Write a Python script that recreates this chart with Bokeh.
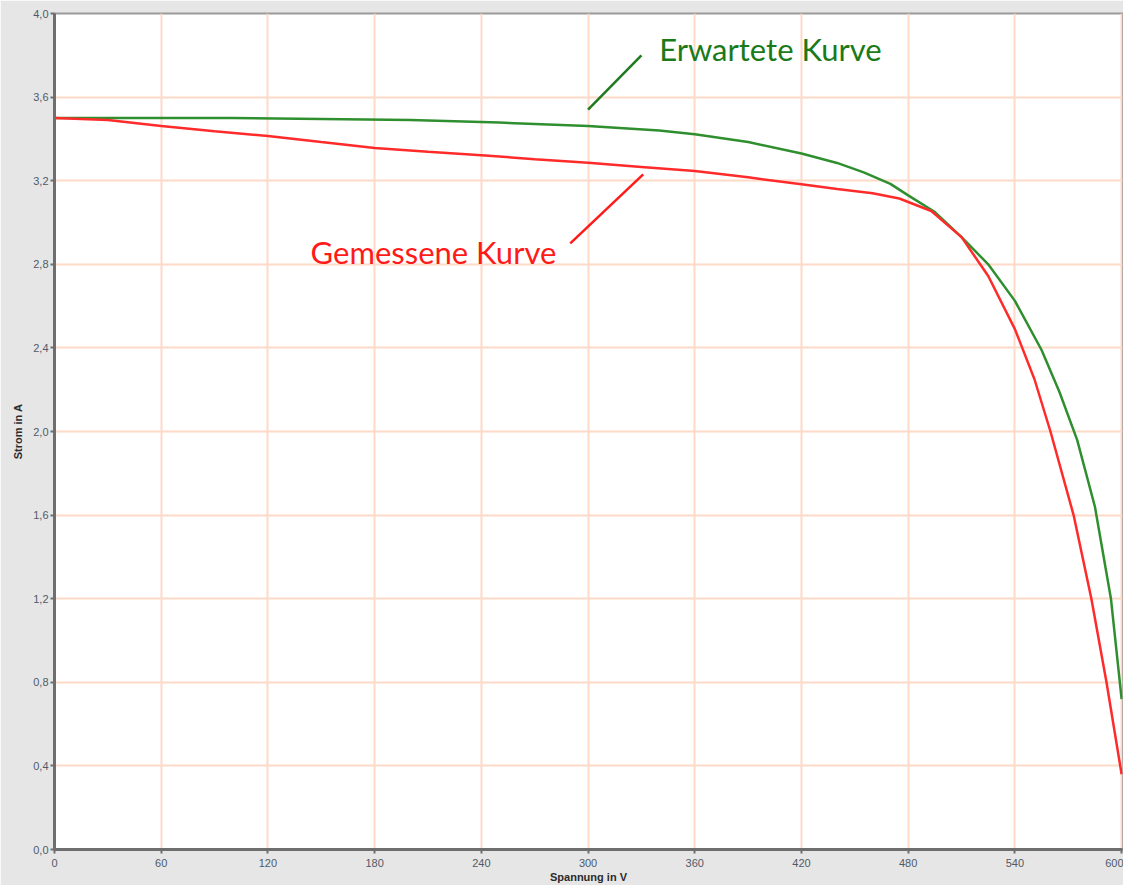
from bokeh.plotting import figure
from bokeh.models import ColumnDataSource, FixedTicker, CustomJSTickFormatter, Label
from bokeh.embed import file_html
from bokeh.resources import INLINE

# ---- data -------------------------------------------------------------
x_ticks = [0, 60, 120, 180, 240, 300, 360, 420, 480, 540, 600]
y_ticks = [0.0, 0.4, 0.8, 1.2, 1.6, 2.0, 2.4, 2.8, 3.2, 3.6, 4.0]

volt_expected = [0, 100, 200, 250, 300, 340, 360, 390, 420, 440, 455, 470,
                 480, 495, 510, 525, 540, 555, 565, 575, 585, 594, 600]
curr_expected = [3.50, 3.50, 3.49, 3.478, 3.462, 3.44, 3.422, 3.385, 3.33,
                 3.285, 3.24, 3.185, 3.13, 3.05, 2.93, 2.80, 2.625, 2.39,
                 2.19, 1.96, 1.64, 1.20, 0.72]

volt_measured = [0, 30, 60, 90, 120, 150, 180, 210, 240, 270, 300, 330, 360,
                 390, 420, 440, 460, 475, 493, 510, 525, 540, 551, 560, 573,
                 583, 591.5, 600]
curr_measured = [3.50, 3.49, 3.462, 3.437, 3.414, 3.385, 3.357, 3.338, 3.322,
                 3.303, 3.286, 3.266, 3.246, 3.216, 3.183, 3.16, 3.14, 3.115,
                 3.055, 2.93, 2.744, 2.49, 2.25, 2.0, 1.6, 1.2, 0.8, 0.36]

label_expected = "Erwartete Kurve"
label_measured = "Gemessene  Kurve"
leader_expected = [300, 3.54, 330, 3.80]
leader_measured = [290, 2.90, 331, 3.23]
text_expected_pos = [340, 3.83]
text_measured_pos = [144, 2.86]

# ---- figure -----------------------------------------------------------
W, H = 1123, 885
p = figure(width=W, height=H, output_backend="svg", toolbar_location=None,
           x_range=(0, 600.5), y_range=(0, 4.0),
           min_border_left=54, min_border_right=1, min_border_top=13,
           min_border_bottom=34)
p.border_fill_color = "#e6e6e6"
p.background_fill_color = "white"
p.outline_line_color = "#9a9a9a"
p.outline_line_width = 2

p.xgrid.ticker = FixedTicker(ticks=x_ticks)
p.ygrid.ticker = FixedTicker(ticks=y_ticks)
for g in (p.xgrid, p.ygrid):
    g.grid_line_color = "#fdd9c8"
    g.grid_line_width = 2

p.xaxis.ticker = FixedTicker(ticks=x_ticks)
p.yaxis.ticker = FixedTicker(ticks=y_ticks)
p.yaxis.formatter = CustomJSTickFormatter(code="return tick.toFixed(1).replace('.', ',');")
p.xaxis.formatter = CustomJSTickFormatter(code="return tick.toFixed(0);")

for ax in (p.xaxis, p.yaxis):
    ax.axis_line_color = "#6e6e6e"
    ax.axis_line_width = 3
    ax.major_tick_line_color = "#6e6e6e"
    ax.major_tick_line_width = 2
    ax.major_tick_out = 4
    ax.major_tick_in = 0
    ax.minor_tick_line_color = None
    ax.major_label_text_font = "Liberation Sans"
    ax.major_label_text_font_size = "11px"
    ax.major_label_text_color = "#4f5b68"
    ax.axis_label_text_font = "Liberation Sans"
    ax.axis_label_text_font_style = "bold"
    ax.axis_label_text_font_size = "11px"
    ax.axis_label_text_color = "#2b2b2b"

p.xaxis.axis_label = "Spannung in V"
p.yaxis.axis_label = "Strom in A"
p.xaxis.major_label_standoff = 5
p.yaxis.major_label_standoff = 2
p.xaxis.axis_label_standoff = 1
p.yaxis.axis_label_standoff = 6

# ---- curves -----------------------------------------------------------
src_exp = ColumnDataSource(dict(v=volt_expected, i=curr_expected))
src_meas = ColumnDataSource(dict(v=volt_measured, i=curr_measured))
p.line("v", "i", source=src_exp, line_color="#2f8f2f", line_width=2.5)
p.line("v", "i", source=src_meas, line_color="#ff2b2b", line_width=2.5)

# ---- annotations ------------------------------------------------------
p.segment(x0=[leader_expected[0]], y0=[leader_expected[1]],
          x1=[leader_expected[2]], y1=[leader_expected[3]],
          line_color="#1f7a1f", line_width=2.5)
p.segment(x0=[leader_measured[0]], y0=[leader_measured[1]],
          x1=[leader_measured[2]], y1=[leader_measured[3]],
          line_color="#ff1a1a", line_width=2.5)

p.add_layout(Label(x=text_expected_pos[0], y=text_expected_pos[1],
                   text=label_expected, text_font="Lato",
                   text_font_size="31px", text_color="#1a7a1a",
                   text_baseline="middle", text_align="left"))
p.add_layout(Label(x=text_measured_pos[0], y=text_measured_pos[1],
                   text=label_measured, text_font="Lato",
                   text_font_size="31px", text_color="#ff1a1a",
                   text_baseline="middle", text_align="left"))

open("out.html", "w").write(file_html(p, INLINE))
